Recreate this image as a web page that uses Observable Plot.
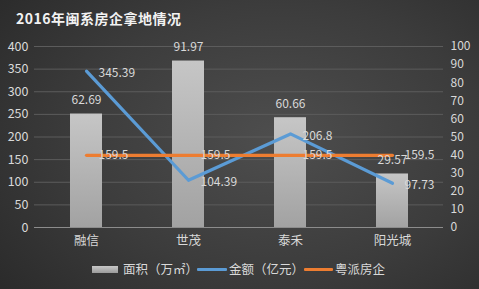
<!DOCTYPE html>
<html><head><meta charset="utf-8">
<script src="https://cdn.jsdelivr.net/npm/d3@7"></script>
<script src="https://cdn.jsdelivr.net/npm/@observablehq/plot@0.6"></script>
<style>
body{margin:0;}
#wrap{position:relative;width:479px;height:289px;overflow:hidden;
 background:radial-gradient(ellipse 75% 85% at 58% 48%, #4e4e4e 0%, #3c3c3c 55%, #2a2a2a 100%);
 font-family:"Noto Sans CJK SC","Noto Sans",sans-serif;color:#d9d9d9;}
#title{position:absolute;left:16px;top:8px;font-size:14px;font-weight:bold;color:#f2f2f2;letter-spacing:0.5px;}
#chart{position:absolute;left:0;top:30px;}
.lg{position:absolute;top:260px;font-size:12.5px;color:#d9d9d9;line-height:18px;}
.sw{position:absolute;}
</style></head><body>
<div id="wrap">
<div id="title">2016年闽系房企拿地情况</div>
<div id="chart"></div>
<div class="sw" style="left:92px;top:266px;width:26px;height:7px;background:linear-gradient(#c8c8c8,#9a9a9a);"></div>
<div class="lg" style="left:123px;">面积（万㎡）</div>
<div class="sw" style="left:197px;top:268px;width:30px;height:3px;background:#5b9bd5;border-radius:1px;"></div>
<div class="lg" style="left:229px;">金额（亿元）</div>
<div class="sw" style="left:304px;top:268px;width:29px;height:3px;background:#ed7d31;border-radius:1px;"></div>
<div class="lg" style="left:335px;">粤派房企</div>
</div>
<script>
const categories = ["融信", "世茂", "泰禾", "阳光城"];
const area = [62.69, 91.97, 60.66, 29.57];      // 面积（万㎡）, right axis
const amount = [345.39, 104.39, 206.8, 97.73];  // 金额（亿元）, left axis
const yuepai = [159.5, 159.5, 159.5, 159.5];    // 粤派房企, left axis
const leftTicks = [0, 50, 100, 150, 200, 250, 300, 350, 400];
const rightTicks = [0, 10, 20, 30, 40, 50, 60, 70, 80, 90, 100];
const ratio = 4; // left max 400 / right max 100

const rows = categories.map((c, i) => ({c, area: area[i], amount: amount[i], yuepai: yuepai[i]}));
const textColor = "#d9d9d9";

const defs = () => {
  const d = d3.create("svg:defs");
  const g = d.append("linearGradient").attr("id", "barGrad").attr("x1", 0).attr("y1", 0).attr("x2", 0).attr("y2", 1);
  g.append("stop").attr("offset", "0%").attr("stop-color", "#c6c6c6");
  g.append("stop").attr("offset", "100%").attr("stop-color", "#a2a2a2");
  return d.node();
};

const chart = Plot.plot({
  width: 479,
  height: 225,
  marginTop: 16,
  marginBottom: 28,
  marginLeft: 34,
  marginRight: 36,
  style: {background: "transparent", color: textColor, fontSize: "12px", fontFamily: "'Noto Sans CJK SC','Noto Sans',sans-serif"},
  x: {domain: categories, paddingInner: 0.69, paddingOuter: 0.345, label: null},
  y: {domain: [0, 400], label: null},
  marks: [
    defs,
    Plot.gridY(leftTicks, {stroke: "#5c5c5c", strokeOpacity: 1, strokeWidth: 1}),
    Plot.axisY(leftTicks, {anchor: "left", tickSize: 0, tickPadding: 6, label: null, fill: textColor, fontSize: 12.5}),
    Plot.axisY(rightTicks.map(t => t * ratio), {anchor: "right", tickSize: 0, tickPadding: 7, label: null, tickFormat: d => d / ratio, fill: textColor, fontSize: 12}),
    Plot.axisX({tickSize: 0, tickPadding: 9, label: null, fill: textColor, fontSize: 12.5}),
    Plot.barY(rows, {x: "c", y: d => d.area * ratio, fill: "url(#barGrad)"}),
    Plot.ruleY([0], {stroke: "#8c8c8c", strokeWidth: 1}),
    Plot.lineY(rows, {x: "c", y: "amount", stroke: "#5b9bd5", strokeWidth: 3.2}),
    Plot.lineY(rows, {x: "c", y: "yuepai", stroke: "#ed7d31", strokeWidth: 3.2}),
    Plot.text(rows, {x: "c", y: d => d.area * ratio, text: d => String(d.area), dy: -14, fill: textColor, fontSize: 12}),
    Plot.text(rows, {x: "c", y: "amount", text: d => String(d.amount), dx: 12, dy: 2, textAnchor: "start", fill: textColor, fontSize: 12}),
    Plot.text(rows, {x: "c", y: "yuepai", text: d => String(d.yuepai), dx: 12, textAnchor: "start", fill: textColor, fontSize: 12})
  ]
});
document.getElementById("chart").appendChild(chart);
</script>
</body></html>
